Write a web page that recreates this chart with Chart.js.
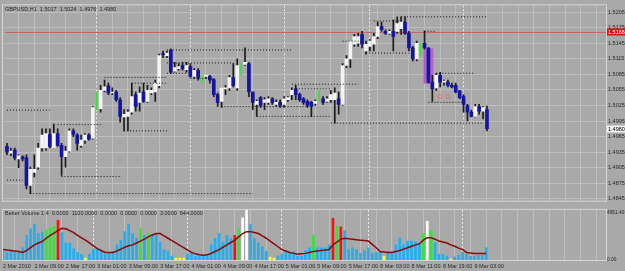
<!DOCTYPE html>
<html>
<head>
<meta charset="utf-8">
<title>GBPUSD,H1</title>
<script src="https://cdn.jsdelivr.net/npm/chart.js@4.4.1/dist/chart.umd.min.js"></script>
<style>
  html, body { margin: 0; padding: 0; background: #a9a9a9; }
  #wrap { position: relative; width: 625px; height: 271px; overflow: hidden; background: #a9a9a9; }
  #mainBox { position: absolute; left: 0; top: 0; width: 625px; height: 206px; }
  #volBox { position: absolute; left: 0; top: 206px; width: 625px; height: 65px; }
</style>
</head>
<body>
<div id="wrap">
  <div id="mainBox"><canvas id="main" width="625" height="206"></canvas></div>
  <div id="volBox"><canvas id="vol" width="625" height="65"></canvas></div>
</div>
<script>
/* ---------- data ---------- */
const SYMBOL = 'GBPUSD,H1';
const N_SLOTS = 154; // visible bar slots incl. empty space on the right

const open = [
  1.4946, 1.4933, 1.4939, 1.4922, 1.4926, 1.4924, 1.4871, 1.4896, 1.4906, 1.4943,
  1.4943, 1.4969, 1.4943, 1.4971, 1.4948, 1.4926, 1.4937, 1.4976, 1.4968, 1.4948,
  1.4958, 1.4968, 1.4962, 1.5019, 1.5019, 1.5054, 1.5063, 1.5049, 1.5051, 1.5036,
  1.5003, 1.5004, 1.5012, 1.5046, 1.5031, 1.5051, 1.5033, 1.5049, 1.5051, 1.5063,
  1.5124, 1.5121, 1.5132, 1.5091, 1.5096, 1.5102, 1.5094, 1.5100, 1.5081, 1.5093,
  1.5070, 1.5081, 1.5081, 1.5075, 1.5046, 1.5033, 1.5057, 1.5059, 1.5079, 1.5059,
  1.5083, 1.5104, 1.5106, 1.5051, 1.5027, 1.5040, 1.5031, 1.5031, 1.5038, 1.5027,
  1.5031, 1.5027, 1.5036, 1.5046, 1.5057, 1.5046, 1.5038, 1.5033, 1.5031, 1.5029,
  1.5033, 1.5038, 1.5033, 1.5036, 1.5036, 1.5038, 1.5027, 1.5102, 1.5115, 1.5143,
  1.5145, 1.5162, 1.5130, 1.5139, 1.5143, 1.5158, 1.5177, 1.5168, 1.5164, 1.5168,
  1.5168, 1.5173, 1.5186, 1.5164, 1.5136, 1.5115, 1.5121, 1.5145, 1.5136, 1.5070,
  1.5059, 1.5083, 1.5070, 1.5070, 1.5064, 1.5064, 1.5053, 1.5042, 1.5025, 1.5012,
  1.5004, 1.5023, 1.5014, 1.5017
];
const high = [
  1.4952, 1.4943, 1.4943, 1.4930, 1.4928, 1.4930, 1.4906, 1.4930, 1.4952, 1.4980,
  1.4980, 1.4980, 1.4989, 1.4980, 1.4952, 1.4946, 1.4980, 1.4980, 1.4971, 1.4968,
  1.4971, 1.4971, 1.5023, 1.5051, 1.5064, 1.5074, 1.5068, 1.5059, 1.5054, 1.5040,
  1.5017, 1.5017, 1.5068, 1.5051, 1.5061, 1.5068, 1.5064, 1.5059, 1.5074, 1.5124,
  1.5130, 1.5130, 1.5134, 1.5108, 1.5106, 1.5108, 1.5108, 1.5106, 1.5096, 1.5096,
  1.5083, 1.5083, 1.5083, 1.5077, 1.5049, 1.5059, 1.5064, 1.5083, 1.5106, 1.5115,
  1.5106, 1.5136, 1.5108, 1.5051, 1.5036, 1.5042, 1.5040, 1.5042, 1.5040, 1.5036,
  1.5036, 1.5042, 1.5042, 1.5059, 1.5064, 1.5049, 1.5040, 1.5036, 1.5033, 1.5036,
  1.5054, 1.5042, 1.5042, 1.5054, 1.5059, 1.5051, 1.5106, 1.5121, 1.5149, 1.5162,
  1.5164, 1.5168, 1.5149, 1.5152, 1.5164, 1.5186, 1.5186, 1.5171, 1.5171, 1.5190,
  1.5196, 1.5196, 1.5196, 1.5168, 1.5139, 1.5149, 1.5145, 1.5169, 1.5136, 1.5083,
  1.5087, 1.5089, 1.5074, 1.5074, 1.5068, 1.5068, 1.5054, 1.5046, 1.5027, 1.5016,
  1.5027, 1.5027, 1.5023, 1.5024
];
const low = [
  1.4930, 1.4928, 1.4920, 1.4905, 1.4918, 1.4864, 1.4855, 1.4887, 1.4902, 1.4937,
  1.4939, 1.4943, 1.4943, 1.4946, 1.4890, 1.4906, 1.4935, 1.4965, 1.4939, 1.4944,
  1.4952, 1.4958, 1.4960, 1.5017, 1.5012, 1.5051, 1.5046, 1.5046, 1.5033, 1.4993,
  1.4976, 1.4976, 1.5008, 1.5014, 1.5014, 1.5031, 1.5031, 1.5046, 1.5033, 1.5059,
  1.5117, 1.5117, 1.5087, 1.5089, 1.5093, 1.5093, 1.5089, 1.5079, 1.5077, 1.5074,
  1.5070, 1.5077, 1.5068, 1.5042, 1.5023, 1.5021, 1.5046, 1.5054, 1.5061, 1.5054,
  1.5083, 1.5102, 1.5042, 1.5017, 1.5004, 1.5021, 1.5017, 1.5027, 1.5027, 1.5023,
  1.5021, 1.5021, 1.5033, 1.5036, 1.5036, 1.5033, 1.5027, 1.5021, 1.5004, 1.5025,
  1.5033, 1.5027, 1.5031, 1.5031, 1.4991, 1.5008, 1.5025, 1.5098, 1.5098, 1.5139,
  1.5139, 1.5136, 1.5124, 1.5130, 1.5130, 1.5154, 1.5168, 1.5162, 1.5162, 1.5130,
  1.5164, 1.5162, 1.5162, 1.5130, 1.5111, 1.5111, 1.5121, 1.5134, 1.5068, 1.5033,
  1.5054, 1.5061, 1.5064, 1.5061, 1.5059, 1.5049, 1.5038, 1.5012, 1.4995, 1.5003,
  1.5003, 1.5008, 1.4999, 1.4976
];
const close = [
  1.4935, 1.4937, 1.4924, 1.4928, 1.4922, 1.4871, 1.4902, 1.4902, 1.4943, 1.4968,
  1.4971, 1.4946, 1.4971, 1.4948, 1.4926, 1.4937, 1.4976, 1.4969, 1.4952, 1.4958,
  1.4968, 1.4960, 1.5021, 1.5049, 1.5054, 1.5061, 1.5049, 1.5051, 1.5036, 1.5004,
  1.5008, 1.5012, 1.5042, 1.5023, 1.5049, 1.5033, 1.5054, 1.5054, 1.5068, 1.5121,
  1.5123, 1.5126, 1.5089, 1.5098, 1.5100, 1.5096, 1.5102, 1.5081, 1.5093, 1.5079,
  1.5083, 1.5081, 1.5074, 1.5046, 1.5031, 1.5059, 1.5059, 1.5079, 1.5063, 1.5102,
  1.5106, 1.5108, 1.5051, 1.5031, 1.5033, 1.5025, 1.5036, 1.5038, 1.5031, 1.5031,
  1.5025, 1.5038, 1.5040, 1.5054, 1.5046, 1.5036, 1.5031, 1.5025, 1.5023, 1.5033,
  1.5054, 1.5031, 1.5038, 1.5046, 1.5049, 1.5027, 1.5102, 1.5115, 1.5149, 1.5158,
  1.5158, 1.5143, 1.5143, 1.5149, 1.5158, 1.5177, 1.5171, 1.5164, 1.5168, 1.5158,
  1.5183, 1.5186, 1.5164, 1.5136, 1.5115, 1.5145, 1.5145, 1.5136, 1.5070, 1.5057,
  1.5083, 1.5070, 1.5070, 1.5064, 1.5061, 1.5051, 1.5040, 1.5027, 1.5012, 1.5004,
  1.5023, 1.5014, 1.5021, 1.4980
];

const greenBars = [23, 50, 60, 80, 106];          // bars painted green by the template
const dayStartBars = [23, 47, 71, 93, 117];       // period separators
const timeLabels = [                              // one label every 8 bars
  '2 Mar 2010', '2 Mar 09:00', '2 Mar 17:00', '3 Mar 01:00', '3 Mar 09:00', '3 Mar 17:00',
  '4 Mar 01:00', '4 Mar 09:00', '4 Mar 17:00', '5 Mar 01:00', '5 Mar 09:00', '5 Mar 17:00',
  '8 Mar 03:00', '8 Mar 11:00', '8 Mar 19:00', '9 Mar 03:00'
];
const priceTicks = [1.4845, 1.4875, 1.4905, 1.4935, 1.4965, 1.4995, 1.5025,
                    1.5055, 1.5085, 1.5115, 1.5145, 1.5175, 1.5205];
const priceMin = 1.48413, priceMax = 1.52182;
const redLevel = 1.5166;

// dotted support / resistance segments: [fromBar, toBar, price]
const levels = [
  [0, 11, 1.5016], [13, 24, 1.4988], [30, 41, 1.4976], [14, 29, 1.4888],
  [0, 4, 1.4881], [6, 63, 1.4855], [41, 73, 1.5132], [41, 58, 1.5107],
  [41, 46, 1.5087], [47, 53, 1.5077], [25, 41, 1.5079], [32, 41, 1.5068],
  [55, 77, 1.5023], [64, 83, 1.5004], [73, 90, 1.5066], [74, 83, 1.5057],
  [83, 122, 1.4991], [86, 91, 1.5149], [94, 101, 1.5188], [101, 123, 1.5196],
  [92, 103, 1.5126], [107, 110, 1.5168], [110, 120, 1.5087], [108, 117, 1.5031]
];
const signalBars = [111, 113];
const signalPrices = [1.5042, 1.5042];
const boxBar = 108;
const boxRange = [1.5068, 1.5134];

// Better Volume sub-window
const volume = [
  882, 784, 882, 784, 784, 1274, 2548, 3234, 3724, 2744,
  2842, 3136, 3332, 3528, 4116, 2842, 1764, 1764, 1176, 784,
  588, 196, 588, 1078, 1176, 882, 588, 686, 882, 1568,
  2058, 2940, 3724, 2744, 2254, 3234, 2548, 2744, 2646, 2744,
  1862, 1078, 882, 392, 196, 196, 196, 588, 784, 392,
  392, 392, 588, 1568, 2254, 2744, 1862, 2548, 2254, 2548,
  3234, 4360, 5150, 3724, 2254, 1764, 1372, 882, 294, 196,
  392, 588, 882, 686, 882, 392, 392, 980, 1274, 2548,
  1274, 1274, 1274, 1568, 4312, 3528, 3430, 3038, 1078, 1274,
  1078, 686, 980, 1274, 686, 784, 784, 392, 882, 882,
  1568, 2254, 1568, 1960, 1960, 1862, 1764, 2744, 4018, 3038,
  1764, 588, 588, 392, 98, 294, 490, 784, 588, 392,
  392, 490, 490, 1274
];
const volumeMA = [
  1078, 1029, 980, 931, 882, 784, 980, 1274, 1568, 1764,
  1911, 2254, 2548, 2793, 3038, 3283, 3234, 3038, 2842, 2548,
  2303, 2058, 1764, 1470, 1176, 980, 784, 784, 784, 931,
  1127, 1323, 1470, 1568, 1764, 1960, 2156, 2401, 2597, 2744,
  2744, 2499, 2254, 2009, 1764, 1519, 1274, 1029, 784, 637,
  539, 490, 539, 686, 882, 1078, 1323, 1568, 1813, 2058,
  2401, 2744, 2940, 2940, 2842, 2744, 2499, 2254, 1960, 1666,
  1372, 1078, 931, 784, 686, 588, 637, 686, 784, 882,
  931, 980, 1029, 1078, 1568, 1862, 2156, 2254, 2205, 2156,
  2107, 2058, 2009, 1960, 1617, 1274, 882, 833, 784, 784,
  882, 980, 1127, 1274, 1421, 1568, 1666, 2058, 2303, 2303,
  2156, 1960, 1862, 1764, 1568, 1421, 1225, 1078, 784, 735,
  686, 686, 686, 686
];
const climaxUpBars = [14, 59, 84, 86];                        // red
const climaxDownBars = [61, 62, 108];                         // white
const churnBars = [11, 12, 13, 35, 37, 60, 79, 85, 107, 109]; // green
const lowVolumeBars = [21, 44, 45, 46, 68, 69, 97, 114];      // yellow
const volTicks = [0, 4951.4];
const volMax = 5194;
const volHeader = 'Better Volume 1.4  0.0000  1100.0000  0.0000  0.0000  0.0000  3.0000  644.0000';

/* ---------- look ---------- */
const FONT = '"Liberation Sans", "DejaVu Sans", sans-serif';
const TXT = '#262626';
const GRID = '#bebebe';
const FRAME = '#d6d6d6';
const BULL = '#f4f4f4';
const BEAR = '#1414a6';

const slots = Array.from({ length: N_SLOTS }, (_, i) => i);

function xGrid() {
  return {
    offset: false,
    drawTicks: false,
    lineWidth: 1,
    color: (c) => dayStartBars.includes(c.index) ? '#ececec'
      : (c.index % 4 === 3 ? GRID : 'rgba(0,0,0,0)')
  };
}
function xBorder() {
  return { display: false, dash: (c) => dayStartBars.includes(c.index) ? [2, 2] : [] };
}

/* ---------- main price chart ---------- */
const bodies = open.map((o, i) => greenBars.includes(i) ? null : [o, close[i]]);
const wicks = high.map((h, i) => [low[i], h]);
const boxData = slots.map(i => i === boxBar ? boxRange : null);
const signalData = slots.map(i => {
  const k = signalBars.indexOf(i);
  return k === -1 ? null : signalPrices[k];
});
const levelSets = levels.map(([a, b, p]) => ({
  type: 'line',
  data: slots.map(i => (i >= a && i <= b) ? p : null),
  borderColor: '#161616',
  borderWidth: 1,
  borderDash: [1, 2],
  pointRadius: 0,
  spanGaps: false,
  order: 2
}));

const mainDecor = {
  id: 'mainDecor',
  beforeDatasetsDraw(chart) {
    const { ctx, chartArea: a, scales: { y } } = chart;
    const ry = Math.round(y.getPixelForValue(redLevel)) + 0.5;
    ctx.save();
    ctx.strokeStyle = '#c86464';
    ctx.lineWidth = 1;
    ctx.beginPath();
    ctx.moveTo(a.left, ry);
    ctx.lineTo(a.right, ry);
    ctx.stroke();
    ctx.restore();
  },
  afterDraw(chart) {
    const { ctx, chartArea: a, scales: { y } } = chart;
    ctx.save();
    // frame
    ctx.strokeStyle = FRAME;
    ctx.lineWidth = 1;
    ctx.strokeRect(2.5, a.top - 0.5, a.right - 2, a.bottom - a.top + 1);
    // header
    ctx.font = '5.5px ' + FONT;
    ctx.fillStyle = TXT;
    ctx.textBaseline = 'middle';
    const last = close.length - 1;
    const hdr = SYMBOL + '  ' + [open[last], high[last], low[last], close[last]]
      .map(v => v.toFixed(4)).join('  ');
    ctx.fillText(hdr, 5, a.top + 4);
    // price tags
    const tag = (val, bg, fg) => {
      const py = Math.round(y.getPixelForValue(val));
      ctx.fillStyle = bg;
      ctx.fillRect(a.right + 1, py - 3.5, 625 - a.right - 1, 7);
      ctx.fillStyle = fg;
      ctx.fillText(val.toFixed(4), a.right + 2, py + 0.5);
    };
    tag(redLevel, '#e01010', '#ffffff');
    tag(close[last], '#f2f2f2', '#000000');
    ctx.restore();
  }
};

new Chart(document.getElementById('main'), {
  type: 'bar',
  data: {
    labels: slots,
    datasets: [
      { data: boxData, backgroundColor: '#b060c6', barThickness: 9, grouped: false, order: 6 },
      { data: wicks, backgroundColor: (c) => greenBars.includes(c.dataIndex) ? '#2ee82e' : '#1c1c1c',
        barThickness: 1, grouped: false, order: 5 },
      { data: bodies, backgroundColor: (c) => close[c.dataIndex] >= open[c.dataIndex] ? BULL : BEAR,
        barThickness: 3, minBarLength: 1, grouped: false, order: 4 },
      ...levelSets,
      { type: 'line', data: signalData, showLine: false, pointRadius: 2,
        pointBorderColor: '#e87070', pointBackgroundColor: 'rgba(0,0,0,0)', pointBorderWidth: 1, order: 1 }
    ]
  },
  options: {
    responsive: false,
    animation: false,
    layout: { padding: { top: 3, bottom: 2, left: 0, right: 0 } },
    plugins: { legend: { display: false }, tooltip: { enabled: false } },
    scales: {
      x: {
        offset: true,
        ticks: { display: false, autoSkip: false },
        grid: xGrid(),
        border: xBorder(),
        afterFit: (s) => { s.height = 0; }
      },
      y: {
        position: 'right',
        min: priceMin,
        max: priceMax,
        afterBuildTicks: (s) => { s.ticks = priceTicks.map(v => ({ value: v })); },
        afterFit: (s) => { s.width = 19; },
        ticks: {
          padding: 2,
          color: TXT,
          font: { family: FONT, size: 5.5 },
          callback: (v) => Number(v).toFixed(4)
        },
        grid: { color: GRID, drawTicks: false },
        border: { display: false }
      }
    }
  },
  plugins: [mainDecor]
});

/* ---------- volume sub-window ---------- */
function volColor(i) {
  if (climaxUpBars.includes(i)) return '#ff1010';
  if (climaxDownBars.includes(i)) return '#ffffff';
  if (churnBars.includes(i)) return '#30e830';
  if (lowVolumeBars.includes(i)) return '#ffff20';
  return '#1eb0f2';
}

const volDecor = {
  id: 'volDecor',
  afterDraw(chart) {
    const { ctx, chartArea: a } = chart;
    ctx.save();
    ctx.strokeStyle = FRAME;
    ctx.lineWidth = 1;
    ctx.strokeRect(2.5, a.top - 0.5, a.right - 2, a.bottom - a.top + 1);
    ctx.font = '5.5px ' + FONT;
    ctx.fillStyle = TXT;
    ctx.textBaseline = 'middle';
    ctx.fillText(volHeader, 5, a.top + 3.5);
    ctx.restore();
  }
};

new Chart(document.getElementById('vol'), {
  type: 'bar',
  data: {
    labels: slots,
    datasets: [
      { type: 'line', data: volumeMA, borderColor: '#880a0a', borderWidth: 1.5,
        pointRadius: 0, tension: 0, order: 1 },
      { data: volume, backgroundColor: (c) => volColor(c.dataIndex),
        barThickness: 2, grouped: false, order: 2 }
    ]
  },
  options: {
    responsive: false,
    animation: false,
    layout: { padding: { top: 1, bottom: 0, left: 0, right: 0 } },
    plugins: { legend: { display: false }, tooltip: { enabled: false } },
    scales: {
      x: {
        offset: true,
        ticks: {
          autoSkip: false,
          maxRotation: 0,
          minRotation: 0,
          align: 'start',
          padding: 3,
          color: TXT,
          font: { family: FONT, size: 5.5 },
          callback: (v, i) => (i % 8 === 0 && timeLabels[i / 8]) ? timeLabels[i / 8] : ''
        },
        grid: xGrid(),
        border: xBorder(),
        afterFit: (s) => { s.height = 11; }
      },
      y: {
        position: 'right',
        min: 0,
        max: volMax,
        afterBuildTicks: (s) => { s.ticks = volTicks.map(v => ({ value: v })); },
        afterFit: (s) => { s.width = 19; },
        ticks: {
          padding: 1,
          color: TXT,
          font: { family: FONT, size: 4.8 },
          callback: (v) => Number(v).toFixed(2)
        },
        grid: { display: false, drawTicks: false },
        border: { display: false }
      }
    }
  },
  plugins: [volDecor]
});
</script>
</body>
</html>
